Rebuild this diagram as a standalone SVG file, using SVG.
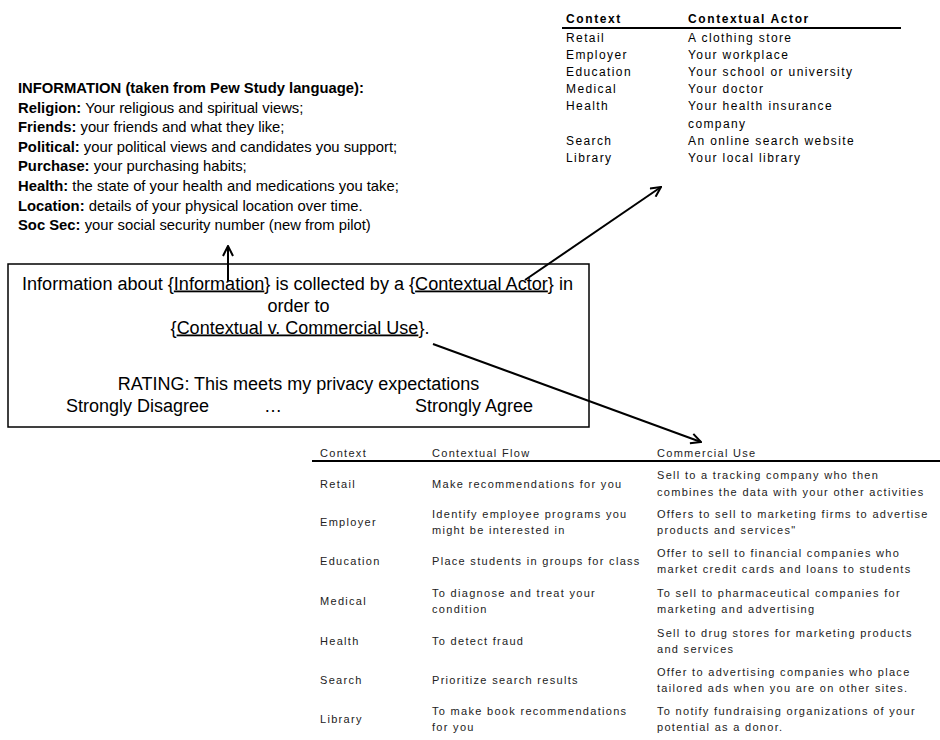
<svg xmlns="http://www.w3.org/2000/svg" width="940" height="740" viewBox="0 0 940 740">
<style>
.cal{font-family:"Liberation Sans",Arial,sans-serif;font-size:14.8px;fill:#000}
.b{font-weight:bold}
.box{font-family:"Liberation Sans",Arial,sans-serif;font-size:18px;fill:#000}
.u{text-decoration:underline}
.t1{font-family:"Liberation Sans",Arial,sans-serif;font-size:12px;letter-spacing:1.4px;fill:#000}
.t1h{font-weight:bold;letter-spacing:1.6px}
.t2{font-family:"Liberation Sans",Arial,sans-serif;font-size:11px;letter-spacing:1.3px;fill:#222}
.rule{stroke:#000;stroke-width:2}
.conn{stroke:#000;stroke-width:2;fill:none;marker-end:url(#ah)}
</style>
<defs>
<marker id="ah" viewBox="0 0 12 12" refX="11" refY="6" markerWidth="12" markerHeight="12" markerUnits="userSpaceOnUse" orient="auto">
<path d="M1,1 L11,6 L1,11" fill="none" stroke="#000" stroke-width="2"/>
</marker>
</defs>
<rect width="940" height="740" fill="#fff"/>

<g id="information-list">
<text class="cal b" x="18" y="93">INFORMATION (taken from Pew Study language):</text>
<text class="cal" x="18" y="112.6"><tspan class="b">Religion:</tspan> Your religious and spiritual views;</text>
<text class="cal" x="18" y="132.2"><tspan class="b">Friends:</tspan> your friends and what they like;</text>
<text class="cal" x="18" y="151.8"><tspan class="b">Political:</tspan> your political views and candidates you support;</text>
<text class="cal" x="18" y="171.4"><tspan class="b">Purchase:</tspan> your purchasing habits;</text>
<text class="cal" x="18" y="191"><tspan class="b">Health:</tspan> the state of your health and medications you take;</text>
<text class="cal" x="18" y="210.6"><tspan class="b">Location:</tspan> details of your physical location over time.</text>
<text class="cal" x="18" y="230.2"><tspan class="b">Soc Sec:</tspan> your social security number (new from pilot)</text>
</g>

<g id="actor-table">
<text class="t1 t1h" x="566" y="23">Context</text>
<text class="t1 t1h" x="688" y="23">Contextual Actor</text>
<line class="rule" x1="562" y1="28" x2="901" y2="28"/>
<text class="t1" x="566" y="42">Retail</text><text class="t1" x="688" y="42">A clothing store</text>
<text class="t1" x="566" y="59">Employer</text><text class="t1" x="688" y="59">Your workplace</text>
<text class="t1" x="566" y="76">Education</text><text class="t1" x="688" y="76">Your school or university</text>
<text class="t1" x="566" y="93">Medical</text><text class="t1" x="688" y="93">Your doctor</text>
<text class="t1" x="566" y="110">Health</text><text class="t1" x="688" y="110">Your health insurance</text>
<text class="t1" x="688" y="128">company</text>
<text class="t1" x="566" y="145">Search</text><text class="t1" x="688" y="145">An online search website</text>
<text class="t1" x="566" y="162">Library</text><text class="t1" x="688" y="162">Your local library</text>
</g>

<g id="question-box">
<rect x="8" y="264" width="581" height="163" fill="none" stroke="#000" stroke-width="1.5"/>
<text class="box" x="22" y="289.5" textLength="551" lengthAdjust="spacingAndGlyphs">Information about {<tspan class="u">Information</tspan>} is collected by a {<tspan class="u">Contextual Actor</tspan>} in</text>
<text class="box" x="298.5" y="312" text-anchor="middle">order to</text>
<text class="box" x="300" y="333.5" text-anchor="middle">{<tspan class="u">Contextual v. Commercial Use</tspan>}.</text>
<text class="box" x="298.5" y="390" text-anchor="middle">RATING:  This meets my privacy expectations</text>
<text class="box" x="66" y="412">Strongly Disagree</text>
<text class="box" x="264" y="412">…</text>
<text class="box" x="415" y="412">Strongly Agree</text>
</g>

<g id="use-table">
<text class="t2" x="320" y="457">Context</text>
<text class="t2" x="432" y="457">Contextual Flow</text>
<text class="t2" x="657" y="457">Commercial Use</text>
<line class="rule" x1="312" y1="461" x2="940" y2="461"/>

<text class="t2" x="320" y="488">Retail</text>
<text class="t2" x="432" y="488">Make recommendations for you</text>
<text class="t2" x="657" y="479">Sell to a tracking company who then</text>
<text class="t2" x="657" y="496">combines the data with your other activities</text>

<text class="t2" x="320" y="526">Employer</text>
<text class="t2" x="432" y="518">Identify employee programs you</text>
<text class="t2" x="432" y="534">might be interested in</text>
<text class="t2" x="657" y="518">Offers to sell to marketing firms to advertise</text>
<text class="t2" x="657" y="534">products and services"</text>

<text class="t2" x="320" y="565">Education</text>
<text class="t2" x="432" y="565">Place students in groups for class</text>
<text class="t2" x="657" y="557">Offer to sell to financial companies who</text>
<text class="t2" x="657" y="573">market credit cards and loans to students</text>

<text class="t2" x="320" y="605">Medical</text>
<text class="t2" x="432" y="597">To diagnose and treat your</text>
<text class="t2" x="432" y="613">condition</text>
<text class="t2" x="657" y="597">To sell to pharmaceutical companies for</text>
<text class="t2" x="657" y="613">marketing and advertising</text>

<text class="t2" x="320" y="645">Health</text>
<text class="t2" x="432" y="645">To detect fraud</text>
<text class="t2" x="657" y="637">Sell to drug stores for marketing products</text>
<text class="t2" x="657" y="653">and services</text>

<text class="t2" x="320" y="684">Search</text>
<text class="t2" x="432" y="684">Prioritize search results</text>
<text class="t2" x="657" y="676">Offer to advertising companies who place</text>
<text class="t2" x="657" y="692">tailored ads when you are on other sites.</text>

<text class="t2" x="320" y="723">Library</text>
<text class="t2" x="432" y="715">To make book recommendations</text>
<text class="t2" x="432" y="731">for you</text>
<text class="t2" x="657" y="715">To notify fundraising organizations of your</text>
<text class="t2" x="657" y="731">potential as a donor.</text>
</g>

<g id="connectors">
<line class="conn" x1="228" y1="281" x2="228" y2="246"/>
<line class="conn" x1="525" y1="280" x2="661" y2="187"/>
<line class="conn" x1="433" y1="344" x2="701" y2="442"/>
</g>
</svg>
